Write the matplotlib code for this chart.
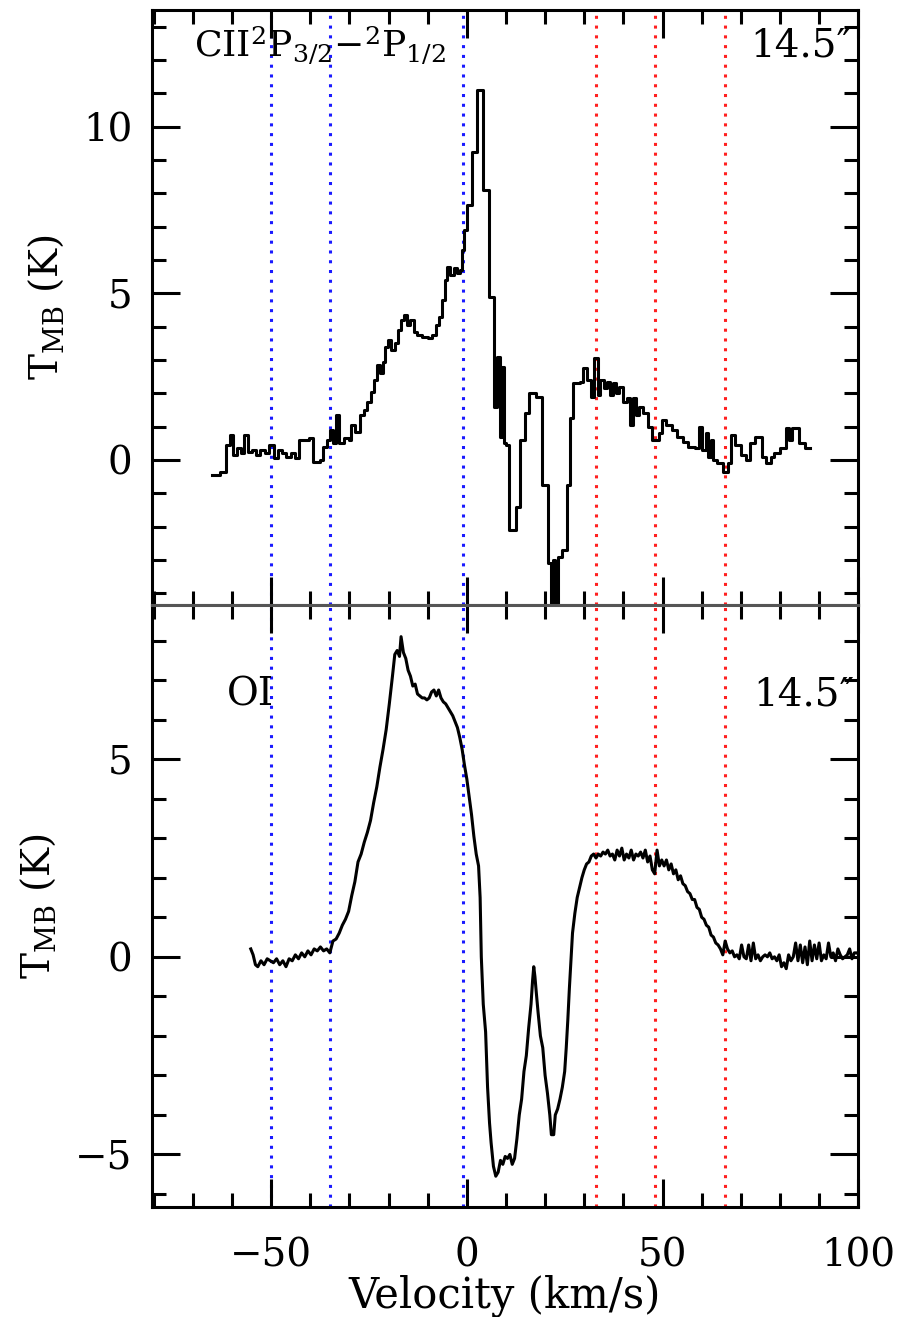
import matplotlib

matplotlib.use("Agg")
import matplotlib.pyplot as plt
from matplotlib.ticker import MultipleLocator

plt.rcParams.update({
    "font.family": "DejaVu Serif",
    "mathtext.fontset": "dejavuserif",
    "font.size": 28,
})

# [CII] spectrum, channel start velocity (km/s) and T_MB (K), drawn as steps
CII_V = [-65.0, -63.0, -61.5, -60.5, -59.7, -58.8, -57.8, -56.8, -55.8, -54.8,
         -53.8, -52.8, -51.5, -50.5, -49.3, -48.3, -47.2, -46.2, -45.0, -44.0,
         -43.0, -40.3, -39.3, -37.5, -36.8, -35.8, -35.0, -34.2, -33.5, -32.7,
         -31.5, -30.2, -29.5, -28.5, -27.3, -26.2, -25.4, -24.6, -23.8, -23.0,
         -22.3, -21.5, -20.9, -20.1, -19.3, -18.4, -17.6, -16.8, -16.0, -15.2,
         -14.4, -13.6, -12.8, -11.5, -10.0, -8.8, -8.0, -7.2, -6.4, -5.6,
         -5.0, -4.2, -3.4, -2.6, -1.8, -1.2, -0.6, 0.0, 1.2, 2.7,
         4.2, 5.7, 7.0, 7.8, 8.4, 8.9, 9.4, 10.0, 10.8, 12.5,
         13.6, 14.8, 16.0, 17.6, 19.3, 20.8, 21.4, 22.0, 22.6, 23.2,
         24.2, 25.6, 26.4, 27.2, 28.8, 29.8, 30.8, 31.8, 32.6, 33.4,
         34.0, 35.0, 35.8, 36.6, 37.4, 38.2, 39.0, 39.8, 40.8, 41.6,
         42.4, 43.2, 44.0, 45.0, 46.4, 47.4, 49.0, 49.8, 51.0, 52.4,
         53.8, 55.2, 56.6, 58.4, 59.4, 60.2, 61.0, 61.6, 62.4, 63.0,
         64.0, 65.4, 66.8, 67.6, 68.6, 70.0, 71.2, 72.4, 73.6, 75.4,
         76.4, 77.6, 78.6, 80.0, 81.6, 82.4, 83.2, 84.8, 86.4, 87.6]
CII_T = [-0.45, -0.35, 0.45, 0.75, 0.15, 0.35, 0.2, 0.75, 0.25, 0.3,
         0.15, 0.3, 0.2, 0.45, 0.05, 0.3, 0.2, 0.1, 0.2, 0.05,
         0.6, 0.65, -0.05, 0.0, 0.4, 0.6, 0.9, 0.5, 1.35, 0.5,
         0.65, 0.6, 1.05, 0.85, 1.35, 1.5, 1.75, 2.05, 2.4, 2.85,
         2.6, 2.95, 3.4, 3.6, 3.3, 3.5, 3.9, 4.2, 4.35, 4.05,
         4.2, 3.85, 3.75, 3.7, 3.65, 3.75, 4.05, 4.3, 4.8, 5.4,
         5.8, 5.55, 5.75, 5.6, 5.7, 6.3, 6.9, 7.65, 9.25, 11.1,
         8.1, 4.9, 1.6, 3.1, 0.7, 2.8, 0.5, 0.45, -2.1, -1.4,
         0.6, 1.4, 2.0, 1.9, -0.75, -3.1, -5.0, -3.0, -5.0, -2.9,
         -2.7, -0.75, 1.25, 2.3, 2.35, 2.75, 2.4, 1.9, 3.05, 1.95,
         2.4, 2.15, 2.35, 1.95, 2.3, 2.0, 2.2, 1.75, 1.85, 1.05,
         1.85, 1.35, 1.6, 1.4, 1.0, 0.6, 0.8, 1.2, 1.05, 0.9,
         0.7, 0.55, 0.4, 0.35, 1.0, 0.3, 0.8, 0.1, 0.6, 0.0,
         -0.1, -0.35, -0.1, 0.75, 0.45, 0.15, 0.0, 0.5, 0.7, 0.1,
         -0.1, 0.1, 0.2, 0.35, 0.95, 0.6, 0.95, 0.5, 0.35, 0.35]

# [OI] spectrum, velocity (km/s) and T_MB (K)
OI_V = [-55.2, -54.6, -54.0, -53.4, -52.6, -51.8, -51.0, -50.2, -49.4, -48.6,
        -47.8, -47.0, -46.2, -45.4, -44.6, -43.8, -43.0, -42.2, -41.4, -40.6,
        -39.8, -39.0, -38.2, -37.4, -36.6, -35.8, -35.0, -34.2, -33.4, -32.6,
        -31.8, -31.0, -30.2, -29.4, -28.6, -27.8, -27.0, -26.2, -25.4, -24.6,
        -23.8, -23.0, -22.2, -21.4, -20.6, -19.8, -19.0, -18.4, -17.8, -17.2,
        -16.8, -16.2, -15.6, -15.0, -14.4, -13.8, -13.2, -12.6, -12.0, -11.4,
        -10.8, -10.2, -9.6, -9.0, -8.4, -7.8, -7.2, -6.6, -6.0, -5.4,
        -4.8, -4.2, -3.6, -3.0, -2.4, -1.8, -1.2, -0.6, 0.0, 0.6,
        1.2, 1.8, 2.4, 3.0, 3.4, 3.7, 4.2, 4.8, 5.3, 5.8,
        6.2, 6.8, 7.4, 8.0, 8.6, 9.2, 9.8, 10.4, 11.0, 11.6,
        12.2, 12.8, 13.4, 14.0, 14.6, 15.2, 15.8, 16.4, 16.8, 17.1,
        17.4, 17.7, 18.2, 18.8, 19.4, 20.0, 20.6, 21.2, 21.6, 22.2,
        22.6, 23.2, 23.8, 24.4, 25.0, 25.4, 25.8, 26.2, 26.6, 27.0,
        27.6, 28.2, 28.8, 29.4, 30.0, 30.6, 31.2, 31.8, 32.4, 33.0,
        33.6, 34.2, 34.8, 35.4, 36.0, 36.6, 37.2, 37.8, 38.4, 39.0,
        39.6, 40.2, 40.8, 41.4, 42.0, 42.6, 43.2, 43.8, 44.4, 45.0,
        45.6, 46.2, 46.8, 47.4, 48.0, 48.6, 49.2, 49.8, 50.4, 51.0,
        51.6, 52.2, 52.8, 53.4, 54.0, 54.6, 55.2, 55.8, 56.4, 57.0,
        57.6, 58.2, 58.8, 59.4, 60.0, 60.6, 61.2, 61.8, 62.4, 63.0,
        63.6, 64.2, 64.8, 65.4, 66.0, 66.6, 67.2, 67.8, 68.4, 69.0,
        69.6, 70.2, 70.8, 71.4, 72.0, 72.6, 73.2, 73.8, 74.4, 75.0,
        75.6, 76.2, 76.8, 77.4, 78.0, 78.6, 79.2, 79.8, 80.4, 81.0,
        81.6, 82.2, 82.8, 83.4, 84.0, 84.6, 85.2, 85.8, 86.4, 87.0,
        87.6, 88.2, 88.8, 89.4, 90.0, 90.6, 91.2, 91.8, 92.4, 93.0,
        93.6, 94.2, 94.8, 95.4, 96.0, 96.6, 97.2, 97.8, 98.4, 99.0,
        99.6, 100.4]
OI_T = [0.2, 0.05, -0.2, -0.25, -0.1, -0.2, -0.05, -0.1, -0.15, -0.05,
        -0.2, -0.1, -0.25, -0.05, -0.1, 0.05, -0.05, 0.1, 0.0, 0.15,
        0.05, 0.2, 0.15, 0.25, 0.15, 0.2, 0.1, 0.4, 0.45, 0.6,
        0.8, 0.95, 1.15, 1.55, 1.9, 2.4, 2.6, 2.9, 3.15, 3.45,
        3.9, 4.3, 4.8, 5.25, 5.75, 6.4, 7.1, 7.65, 7.75, 7.6,
        8.1, 7.7, 7.55, 7.25, 7.1, 6.85, 6.9, 6.65, 6.6, 6.55,
        6.55, 6.5, 6.55, 6.7, 6.75, 6.6, 6.75, 6.55, 6.45, 6.4,
        6.3, 6.2, 6.1, 5.95, 5.8, 5.55, 5.25, 4.85, 4.5, 4.05,
        3.6, 3.05, 2.6, 2.3, 1.5, 0.0, -1.2, -1.9, -3.3, -4.2,
        -4.7, -5.3, -5.55, -5.45, -5.15, -5.25, -5.05, -5.1, -5.0, -5.25,
        -5.1, -4.6, -4.0, -3.6, -2.9, -2.5, -1.8, -1.2, -0.6, -0.25,
        -0.5, -0.85, -1.4, -2.0, -2.3, -3.0, -3.45, -4.0, -4.5, -4.5,
        -4.0, -3.85, -3.6, -3.3, -2.9, -2.3, -1.6, -0.8, -0.1, 0.6,
        1.1, 1.5, 1.75, 2.0, 2.2, 2.35, 2.4, 2.55, 2.6, 2.5,
        2.6, 2.55, 2.65, 2.6, 2.7, 2.55, 2.6, 2.45, 2.7, 2.55,
        2.75, 2.45, 2.6, 2.5, 2.7, 2.45, 2.6, 2.55, 2.65, 2.5,
        2.7, 2.4, 2.55, 2.2, 2.1, 2.7, 2.3, 2.45, 2.3, 2.45,
        2.2, 2.35, 2.1, 2.2, 1.95, 2.05, 1.85, 1.8, 1.65, 1.6,
        1.45, 1.45, 1.25, 1.2, 1.0, 0.95, 0.8, 0.75, 0.55, 0.5,
        0.35, 0.3, 0.2, 0.05, 0.4, 0.2, 0.1, 0.15, 0.0, 0.05,
        -0.05, 0.3, 0.0, -0.05, 0.3, -0.1, 0.35, -0.05, 0.05, -0.1,
        0.0, 0.05, 0.0, 0.1, -0.05, 0.0, -0.1, 0.05, -0.25, -0.15,
        -0.3, 0.05, -0.1, 0.0, 0.35, -0.1, 0.3, -0.15, 0.25, -0.2,
        0.4, -0.1, 0.3, -0.05, 0.35, -0.1, 0.05, -0.05, 0.35, 0.0,
        0.1, -0.1, 0.2, 0.05, -0.05, 0.0, 0.05, 0.2, -0.05, 0.1,
        0.1, 0.05]

BLUE_LINES = [-50, -35, -1]
RED_LINES = [33, 48, 66]

fig = plt.figure(figsize=(9.14, 13.17), dpi=100)
ax_top = fig.add_axes([0.166, 0.5406, 0.773, 0.4518])
ax_bot = fig.add_axes([0.166, 0.0835, 0.773, 0.4571], sharex=ax_top)

ax_top.plot(CII_V, CII_T, drawstyle="steps-post", color="black", lw=2.2)
ax_bot.plot(OI_V, OI_T, color="black", lw=2.2)

for ax in (ax_top, ax_bot):
    for v in BLUE_LINES:
        ax.axvline(v, color="#1a1aff", lw=2.2, ls=(0, (1, 2.2)), zorder=0)
    for v in RED_LINES:
        ax.axvline(v, color="#ff2020", lw=2.2, ls=(0, (1, 2.2)), zorder=0)
    ax.set_xlim(-80.5, 100)
    ax.xaxis.set_major_locator(MultipleLocator(50))
    ax.xaxis.set_minor_locator(MultipleLocator(10))
    ax.yaxis.set_major_locator(MultipleLocator(5))
    ax.yaxis.set_minor_locator(MultipleLocator(1))
    ax.tick_params(which="both", direction="in", top=True, right=True,
                   width=2.2)
    ax.tick_params(axis="y", pad=14)
    ax.tick_params(axis="x", pad=22)
    ax.tick_params(which="major", length=20)
    ax.tick_params(which="minor", length=10)
    for s in ax.spines.values():
        s.set_linewidth(2.2)
    ax.set_ylabel(r"T$_{\rm MB}$ (K)", labelpad=12)

ax_top.set_ylim(-4.35, 13.5)
ax_bot.set_ylim(-6.33, 8.9)
ax_top.spines["bottom"].set_color("#555555")
ax_bot.spines["top"].set_color("#555555")
ax_top.tick_params(labelbottom=False)

ax_top.text(0.06, 0.94, r"CII$^2$P$_{3/2}$$-$$^2$P$_{1/2}$", transform=ax_top.transAxes,
            ha="left", va="center", fontsize=26)
ax_top.text(0.99, 0.94, "14.5\u2033", transform=ax_top.transAxes,
            ha="right", va="center", fontsize=28)
ax_bot.text(0.107, 0.85, "OI", transform=ax_bot.transAxes,
            ha="left", va="center", fontsize=28)
ax_bot.text(0.995, 0.85, "14.5\u2033", transform=ax_bot.transAxes,
            ha="right", va="center", fontsize=28)

ax_bot.set_xlabel("Velocity (km/s)", fontsize=30, labelpad=0)

fig.savefig("out.png", dpi=100)
